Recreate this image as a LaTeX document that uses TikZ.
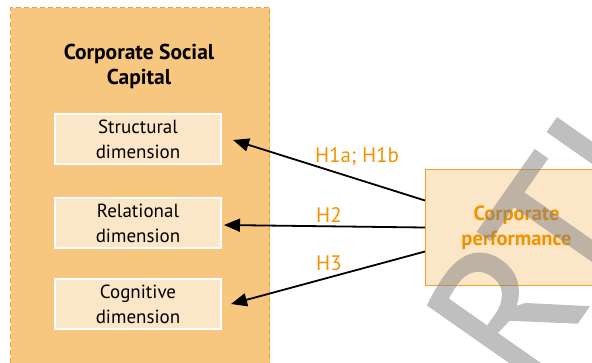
\documentclass[tikz,border=0pt]{standalone}
\usepackage{fontspec}
\setmainfont{PT Sans}
\newfontfamily\wmfont[FakeBold=1.3]{PT Sans}
\usetikzlibrary{arrows.meta}
\definecolor{outerfill}{HTML}{F7C67F}
\definecolor{outerline}{HTML}{F2A030}
\definecolor{innerfill}{HTML}{FCE6C8}
\definecolor{orangetext}{HTML}{F39200}
\definecolor{wmgray}{HTML}{808080}
\tikzset{
  outerbox/.style={draw=outerline, fill=outerfill, line width=1pt, dash pattern=on 5pt off 3pt, inner sep=0pt},
  dimbox/.style={draw=white, fill=innerfill, line width=2pt, minimum width=166pt, minimum height=50pt, align=center, inner sep=0pt, font=\fontsize{19}{25}\selectfont},
  titlebox/.style={align=center, inner sep=0pt, font=\bfseries\fontsize{21.5}{25}\selectfont},
  perfbox/.style={draw=outerline, fill=innerfill, line width=1pt, minimum width=182pt, minimum height=116pt, align=center, inner sep=0pt, text=orangetext, font=\bfseries\fontsize{20.5}{25}\selectfont},
  hlabel/.style={text=orangetext, inner sep=0pt, font=\fontsize{21}{23}\selectfont},
  arr/.style={line width=1.8pt, -{Triangle[length=16pt,width=13pt]}},
  watermark/.style={text=wmgray, inner sep=0pt, font=\wmfont\fontsize{190}{190}\selectfont}
}
\begin{document}
\begin{tikzpicture}[x=1pt,y=-1pt]
\useasboundingbox (0,0) rectangle (592,362);
\node[outerbox, minimum width=259pt, minimum height=380pt, anchor=north west] (csc) at (10,7) {};
\node[titlebox] (title) at (139,66) {Corporate Social\\Capital};
\node[dimbox] (s) at (138,139) {Structural\\dimension};
\node[dimbox] (r) at (138,223) {Relational\\dimension};
\node[dimbox] (c) at (138,304) {Cognitive\\dimension};
\node[perfbox, anchor=north west] (p) at (425,169) {Corporate\\performance};
\draw[arr] ([yshift=27pt]p.west) -- ([xshift=11pt,yshift=-1pt]s.east);
\draw[arr] (p.west) -- ([xshift=2pt,yshift=-2pt]r.east);
\draw[arr] ([yshift=-24pt]p.west) -- ([xshift=9pt]c.east);
\node[hlabel] (h1) at (357,157) {H1a; H1b};
\node[hlabel] (h2) at (329,215) {H2};
\node[hlabel] (h3) at (329,263) {H3};
\begin{scope}[transparency group, opacity=0.5]
\node[watermark, rotate=55, anchor=base west] (wm) at (527,394) {RTI};
\end{scope}
\end{tikzpicture}
\end{document}
